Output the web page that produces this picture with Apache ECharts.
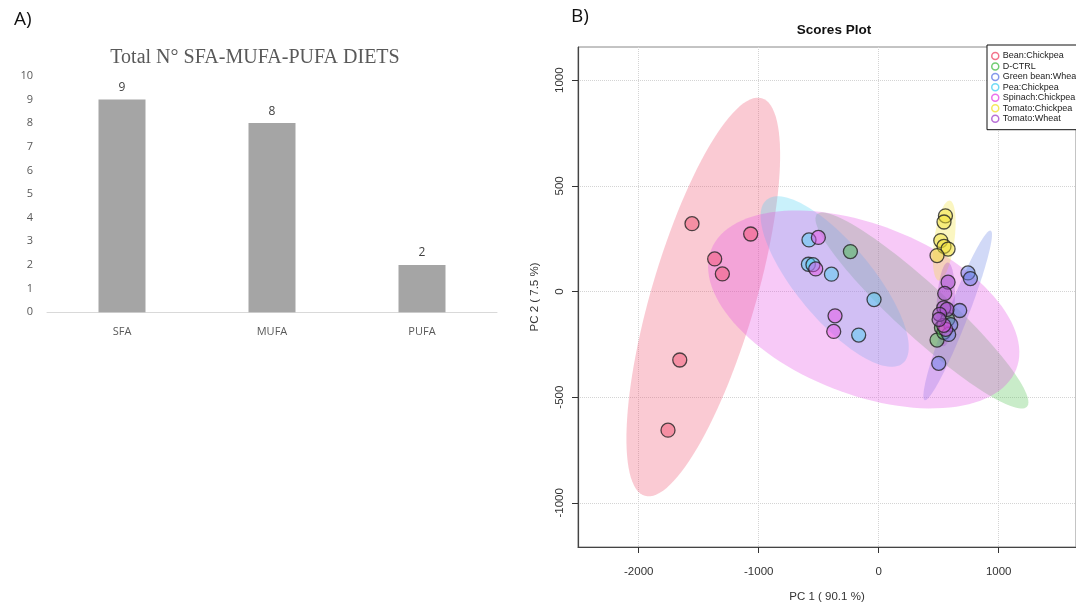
<!DOCTYPE html>
<html>
<head>
<meta charset="utf-8">
<script src="https://cdn.jsdelivr.net/npm/echarts@6/dist/echarts.min.js"></script>
<style>
html,body{margin:0;padding:0;background:#fff;}
#main{width:1076px;height:608px;}
</style>
</head>
<body>
<div id="main"></div>
<script>
// ---------- Panel A data ----------
const barCategories = ['SFA', 'MUFA', 'PUFA'];
const barValues = [9, 8, 2];

// ---------- Panel B data (PC1, PC2 scores) ----------
const groupNames = ['Bean:Chickpea', 'D-CTRL', 'Green bean:Wheat', 'Pea:Chickpea', 'Spinach:Chickpea', 'Tomato:Chickpea', 'Tomato:Wheat'];
const groupColors = ['#F0506E', '#4DBF4D', '#6680E6', '#4DD2F2', '#E64DE6', '#F2E233', '#A64DCC'];

const beanChickpea = [[-1556, 321], [-1067, 272], [-1367, 154], [-1303, 83], [-1658, -324], [-1756, -656]];
const dCtrl = [[-236, 189], [486, -230], [523, -171], [542, -193], [575, -132]];
const greenBeanWheat = [[744, 88], [764, 61], [675, -90], [600, -157], [583, -203], [500, -340]];
const peaChickpea = [[-581, 244], [-586, 129], [-548, 127], [-394, 82], [-39, -38], [-167, -206]];
const spinachChickpea = [[-503, 256], [-525, 107], [-364, -115], [-375, -189], [558, -179], [542, -160]];
const tomatoChickpea = [[556, 358], [544, 329], [517, 241], [544, 214], [578, 201], [486, 170]];
const tomatoWheat = [[578, 44], [550, -9], [542, -77], [569, -85], [508, -108], [503, -132]];
const groupScores = [beanChickpea, dCtrl, greenBeanWheat, peaChickpea, spinachChickpea, tomatoChickpea, tomatoWheat];

// confidence ellipses: [centerX, centerY, axis1X, axis1Y, axis2X, axis2Y] (conjugate semi-axes, data units)
const ellipseBean = [-1462, -26, 487, 941, 416, -69];
const ellipseCtrl = [360, -90, 875, -455, 147, 90];
const ellipseGreenBean = [658, -113, 275, 401, 78, -17];
const ellipsePea = [-367, 47, 567, -387, 244, 114];
const ellipseSpinach = [-125, -85, 1271, -283, 258, 373];
const ellipseTomatoChickpea = [546, 241, 46, 189, 83, -7];
const ellipseTomatoWheat = [558, -61, 17, 198, 75, 0];
const groupEllipses = [ellipseBean, ellipseCtrl, ellipseGreenBean, ellipsePea, ellipseSpinach, ellipseTomatoChickpea, ellipseTomatoWheat];

const xTicks = [-2000, -1000, 0, 1000];
const yTicks = [-1000, -500, 0, 500, 1000];

function rgba(hex, a) {
  const n = parseInt(hex.slice(1), 16);
  return 'rgba(' + ((n >> 16) & 255) + ',' + ((n >> 8) & 255) + ',' + (n & 255) + ',' + a + ')';
}
function plain(v) { return String(v); }

const chart = echarts.init(document.getElementById('main'), null, {renderer: 'canvas'});

const series = [];
series.push({
  type: 'bar', xAxisIndex: 0, yAxisIndex: 0, data: barValues, barWidth: 47,
  itemStyle: {color: '#A5A5A5'},
  label: {show: true, position: 'top', distance: 6, color: '#404040', fontSize: 12, fontFamily: 'Open Sans'},
  silent: true
});

groupEllipses.forEach(function (e, i) {
  const fill = rgba(groupColors[i], 0.3);
  series.push({
    type: 'custom', name: groupNames[i] + ' ellipse', xAxisIndex: 1, yAxisIndex: 1, z: 1,
    data: [e], silent: true, clip: true,
    renderItem: function (params, api) {
      const cx = api.value(0), cy = api.value(1), ux = api.value(2), uy = api.value(3), vx = api.value(4), vy = api.value(5);
      const pts = [];
      for (let k = 0; k < 120; k++) {
        const t = k / 120 * Math.PI * 2;
        pts.push(api.coord([cx + ux * Math.cos(t) + vx * Math.sin(t), cy + uy * Math.cos(t) + vy * Math.sin(t)]));
      }
      return {type: 'polygon', shape: {points: pts}, style: {fill: fill}};
    }
  });
});

groupScores.forEach(function (d, i) {
  series.push({
    type: 'scatter', name: groupNames[i], xAxisIndex: 1, yAxisIndex: 1, z: 3,
    data: d, symbol: 'circle', symbolSize: 14,
    itemStyle: {color: rgba(groupColors[i], 0.6), borderColor: '#222', borderWidth: 1.3}
  });
});

const option = {
  animation: false,
  backgroundColor: '#fff',
  title: [
    {text: 'A)', left: 9, top: 5, textStyle: {fontFamily: 'Open Sans', fontSize: 19, fontWeight: 'normal', color: '#111'}},
    {text: 'B)', left: 566, top: 2, textStyle: {fontFamily: 'Open Sans', fontSize: 19, fontWeight: 'normal', color: '#111'}},
    {text: 'Total N° SFA-MUFA-PUFA DIETS', left: 250, top: 43, textAlign: 'center', textStyle: {fontFamily: 'Liberation Serif', fontSize: 20, fontWeight: 'normal', color: '#595959'}},
    {text: 'Scores Plot', left: 829, top: 18, textAlign: 'center', textStyle: {fontFamily: 'Liberation Sans', fontSize: 13.5, fontWeight: 'bold', color: '#111'}}
  ],
  legend: {
    data: groupNames.map(function (n, i) {
      return {name: n, icon: 'circle', itemStyle: {color: '#fff', borderColor: groupColors[i], borderWidth: 1.5}};
    }),
    orient: 'vertical', left: 987, top: 45,
    padding: [6, 4, 6, 4], itemWidth: 7, itemHeight: 7, itemGap: 0.45,
    backgroundColor: '#fff', borderColor: '#111', borderWidth: 1,
    textStyle: {fontFamily: 'Liberation Sans', fontSize: 9, lineHeight: 10, color: '#222', padding: [0, 0, 0, -1]},
    selectedMode: false
  },
  grid: [
    {left: 47, right: 579, top: 75.8, bottom: 295.7},
    {left: 578, right: 0, top: 47, bottom: 59.7, show: true, borderColor: '#888', borderWidth: 1, backgroundColor: 'transparent'}
  ],
  xAxis: [
    {
      type: 'category', gridIndex: 0, data: barCategories,
      axisLine: {lineStyle: {color: '#D9D9D9', width: 1}}, axisTick: {show: false},
      axisLabel: {color: '#595959', fontSize: 11, fontFamily: 'Open Sans', margin: 14}
    },
    {
      type: 'value', gridIndex: 1, min: -2506, max: 1644,
      axisLine: {onZero: false, lineStyle: {color: '#444', width: 1.2}},
      axisTick: {show: true, length: 6, customValues: xTicks, lineStyle: {color: '#333'}},
      axisLabel: {customValues: xTicks, formatter: plain, color: '#333', fontSize: 11.5, fontFamily: 'Liberation Sans', margin: 19},
      splitLine: {show: true, lineStyle: {color: '#d4d4d4', type: 'dotted', width: 1}},
      name: 'PC 1 ( 90.1 %)', nameLocation: 'middle', nameGap: 44,
      nameTextStyle: {color: '#333', fontSize: 11.5, fontFamily: 'Liberation Sans'}
    }
  ],
  yAxis: [
    {
      type: 'value', gridIndex: 0, min: 0, max: 10, interval: 1,
      axisLine: {show: false}, axisTick: {show: false}, splitLine: {show: false},
      axisLabel: {color: '#595959', fontSize: 11, fontFamily: 'Open Sans', margin: 14}
    },
    {
      type: 'value', gridIndex: 1, min: -1209, max: 1157,
      axisLine: {onZero: false, lineStyle: {color: '#444', width: 1.2}},
      axisTick: {show: true, length: 6, customValues: yTicks, lineStyle: {color: '#333'}},
      axisLabel: {customValues: yTicks, formatter: plain, rotate: 90, color: '#333', fontSize: 11.5, fontFamily: 'Liberation Sans', margin: 12},
      splitLine: {show: true, lineStyle: {color: '#d4d4d4', type: 'dotted', width: 1}},
      name: 'PC 2 ( 7.5 %)', nameLocation: 'middle', nameGap: 37,
      nameTextStyle: {color: '#333', fontSize: 11.5, fontFamily: 'Liberation Sans'}
    }
  ],
  series: series
};
chart.setOption(option);
</script>
</body>
</html>
